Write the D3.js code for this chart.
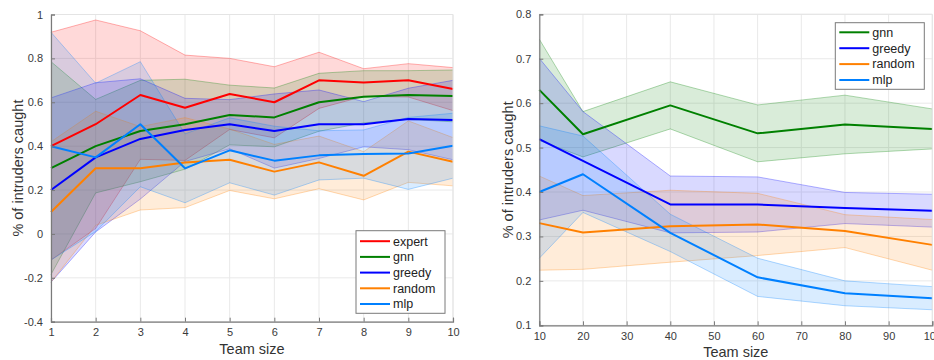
<!DOCTYPE html>
<html><head><meta charset="utf-8">
<script src="https://cdn.jsdelivr.net/npm/d3@7/dist/d3.min.js"></script>
<style>body{margin:0;background:#fff}svg{display:block}text{font-family:"Liberation Sans",Arial,sans-serif}</style>
</head><body>
<svg id="chart" width="934" height="360"></svg>
<script>
// ---------- data: left panel (team size 1..10) ----------
const leftTeamSizes = [1,2,3,4,5,6,7,8,9,10];
const leftExpertMean = [0.40,0.50,0.633,0.575,0.638,0.60,0.70,0.69,0.70,0.66];
const leftExpertStd  = [0.519,0.475,0.293,0.24,0.162,0.162,0.128,0.063,0.076,0.098];
const leftGnnMean    = [0.30,0.40,0.469,0.50,0.542,0.531,0.60,0.625,0.633,0.629];
const leftGnnStd     = [0.485,0.213,0.231,0.205,0.136,0.134,0.132,0.119,0.111,0.118];
const leftGreedyMean = [0.20,0.349,0.433,0.474,0.50,0.469,0.50,0.50,0.524,0.519];
const leftGreedyStd  = [0.42,0.34,0.274,0.144,0.112,0.169,0.156,0.103,0.14,0.181];
const leftRandomMean = [0.10,0.299,0.299,0.325,0.338,0.284,0.326,0.265,0.375,0.329];
const leftRandomStd  = [0.32,0.26,0.19,0.205,0.14,0.124,0.12,0.11,0.14,0.11];
const leftMlpMean    = [0.40,0.349,0.50,0.299,0.381,0.334,0.358,0.364,0.367,0.402];
const leftMlpStd     = [0.519,0.338,0.285,0.157,0.148,0.157,0.112,0.11,0.164,0.148];
const leftXTicks = [1,2,3,4,5,6,7,8,9,10];
const leftYTicks = [-0.4,-0.2,0,0.2,0.4,0.6,0.8,1];

// ---------- data: right panel (team size 10..100) ----------
const rightTeamSizes = [10,20,40,60,80,100];
const rightGnnMean    = [0.630,0.530,0.595,0.532,0.552,0.542];
const rightGnnStd     = [0.114,0.051,0.053,0.064,0.066,0.045];
const rightGreedyMean = [0.519,0.470,0.372,0.372,0.364,0.358];
const rightGreedyStd  = [0.182,0.111,0.064,0.062,0.035,0.037];
const rightRandomMean = [0.330,0.309,0.323,0.327,0.312,0.281];
const rightRandomStd  = [0.106,0.083,0.081,0.070,0.037,0.057];
const rightMlpMean    = [0.400,0.440,0.308,0.208,0.172,0.161];
const rightMlpStd     = [0.149,0.086,0.042,0.043,0.028,0.026];
const rightXTicks = [10,20,30,40,50,60,70,80,90,100];
const rightYTicks = [0.1,0.2,0.3,0.4,0.5,0.6,0.7,0.8];

const seriesNames = ["expert","gnn","greedy","random","mlp"];
const colors = {expert:"#ff0000", gnn:"#008000", greedy:"#0000ff", random:"#ff8000", mlp:"#0080ff"};
const xLabel = "Team size";
const yLabel = "% of intruders caught";

const svg = d3.select("#chart");

function drawPanel(cfg){
  const x = d3.scaleLinear().domain(cfg.xDomain).range([cfg.left, cfg.right]);
  const y = d3.scaleLinear().domain(cfg.yDomain).range([cfg.bottom, cfg.top]);
  const g = svg.append("g");
  const fmt = d => String(+(+d).toFixed(1));

  // grid
  g.append("g").selectAll("line").data(cfg.xTicks).join("line")
    .attr("x1", d=>x(d)).attr("x2", d=>x(d)).attr("y1", cfg.top).attr("y2", cfg.bottom)
    .attr("stroke","#e9e9e9").attr("stroke-width",1);
  g.append("g").selectAll("line").data(cfg.yTicks).join("line")
    .attr("y1", d=>y(d)).attr("y2", d=>y(d)).attr("x1", cfg.left).attr("x2", cfg.right)
    .attr("stroke","#e9e9e9").attr("stroke-width",1);

  // bands
  const area = d3.area().x(d=>x(d.x)).y0(d=>y(d.m - d.s)).y1(d=>y(d.m + d.s));
  const lineU = d3.line().x(d=>x(d.x)).y(d=>y(d.m + d.s));
  const lineL = d3.line().x(d=>x(d.x)).y(d=>y(d.m - d.s));
  const lineM = d3.line().x(d=>x(d.x)).y(d=>y(d.m));
  const pts = cfg.series.map(s => ({name:s.name, pts: cfg.xs.map((xv,i)=>({x:xv, m:s.mean[i], s:s.std[i]}))}));
  pts.forEach(s=>{
    g.append("path").attr("d", area(s.pts)).attr("fill", colors[s.name]).attr("fill-opacity",0.15).attr("stroke","none");
    g.append("path").attr("d", lineU(s.pts)).attr("fill","none").attr("stroke", colors[s.name]).attr("stroke-opacity",0.3).attr("stroke-width",1);
    g.append("path").attr("d", lineL(s.pts)).attr("fill","none").attr("stroke", colors[s.name]).attr("stroke-opacity",0.3).attr("stroke-width",1);
  });
  pts.forEach(s=>{
    g.append("path").attr("d", lineM(s.pts)).attr("fill","none").attr("stroke", colors[s.name]).attr("stroke-width",2).attr("stroke-linejoin","round");
  });

  // box (light top/right)
  g.append("line").attr("x1",cfg.left).attr("x2",cfg.right).attr("y1",cfg.top).attr("y2",cfg.top).attr("stroke","#e4e4e4");
  g.append("line").attr("x1",cfg.right).attr("x2",cfg.right).attr("y1",cfg.top).attr("y2",cfg.bottom).attr("stroke","#e4e4e4");

  // axes
  const xAxis = d3.axisBottom(x).tickValues(cfg.xTicks).tickSize(-4).tickPadding(8).tickFormat(d=>String(d));
  const yAxis = d3.axisLeft(y).tickValues(cfg.yTicks).tickSize(-4).tickPadding(8).tickFormat(fmt);
  const ax = g.append("g").attr("transform",`translate(0,${cfg.bottom})`).call(xAxis);
  const ay = g.append("g").attr("transform",`translate(${cfg.left},0)`).call(yAxis);
  [ax, ay].forEach(a=>{
    a.select(".domain").attr("stroke","#7a7a7a").attr("stroke-width",1.2);
    a.selectAll(".tick line").attr("stroke","#7a7a7a");
    a.selectAll(".tick text").attr("fill","#3a3a3a").style("font-size","11px")
      .style("font-family","'Liberation Sans',Arial,sans-serif");
  });
  ax.selectAll(".tick text").attr("dy","0.75em").attr("y", 6);

  // axis labels
  g.append("text").attr("x",(cfg.left+cfg.right)/2).attr("y",cfg.xLabelY).attr("text-anchor","middle")
    .attr("fill","#333").style("font-size","14.5px").text(xLabel);
  g.append("text").attr("transform",`translate(${cfg.yLabelX},${(cfg.top+cfg.bottom)/2}) rotate(-90)`)
    .attr("text-anchor","middle").attr("dy","0.35em").attr("fill","#333").style("font-size","14.5px").text(yLabel);

  // legend
  const L = cfg.legend;
  const lg = g.append("g");
  lg.append("rect").attr("x",L.x).attr("y",L.y).attr("width",L.w).attr("height",L.h)
    .attr("fill","#fff").attr("stroke","#7a7a7a").attr("stroke-width",1);
  cfg.series.forEach((s,i)=>{
    const yy = L.y + L.first + i*L.step;
    lg.append("line").attr("x1",L.x+4).attr("x2",L.x+34).attr("y1",yy).attr("y2",yy)
      .attr("stroke",colors[s.name]).attr("stroke-width",2);
    lg.append("text").attr("x",L.x+37).attr("y",yy).attr("dy","0.35em").attr("fill","#222")
      .style("font-size","12.5px").text(s.name);
  });
}

drawPanel({
  xDomain:[1,10], yDomain:[-0.4,1], left:51, right:453, top:14.5, bottom:321.7,
  xs:leftTeamSizes, xTicks:leftXTicks, yTicks:leftYTicks,
  xLabelY:354, yLabelX:18,
  series:[
    {name:"expert", mean:leftExpertMean, std:leftExpertStd},
    {name:"gnn", mean:leftGnnMean, std:leftGnnStd},
    {name:"greedy", mean:leftGreedyMean, std:leftGreedyStd},
    {name:"random", mean:leftRandomMean, std:leftRandomStd},
    {name:"mlp", mean:leftMlpMean, std:leftMlpStd}
  ],
  legend:{x:356, y:230.7, w:89, h:82.6, first:10.5, step:15.7}
});

drawPanel({
  xDomain:[10,100], yDomain:[0.1,0.8], left:539.3, right:932.3, top:14.3, bottom:325.3,
  xs:rightTeamSizes, xTicks:rightXTicks, yTicks:rightYTicks,
  xLabelY:357, yLabelX:508,
  series:[
    {name:"gnn", mean:rightGnnMean, std:rightGnnStd},
    {name:"greedy", mean:rightGreedyMean, std:rightGreedyStd},
    {name:"random", mean:rightRandomMean, std:rightRandomStd},
    {name:"mlp", mean:rightMlpMean, std:rightMlpStd}
  ],
  legend:{x:835.3, y:22.7, w:89, h:66.6, first:9.6, step:15.9}
});
</script>
</body></html>
